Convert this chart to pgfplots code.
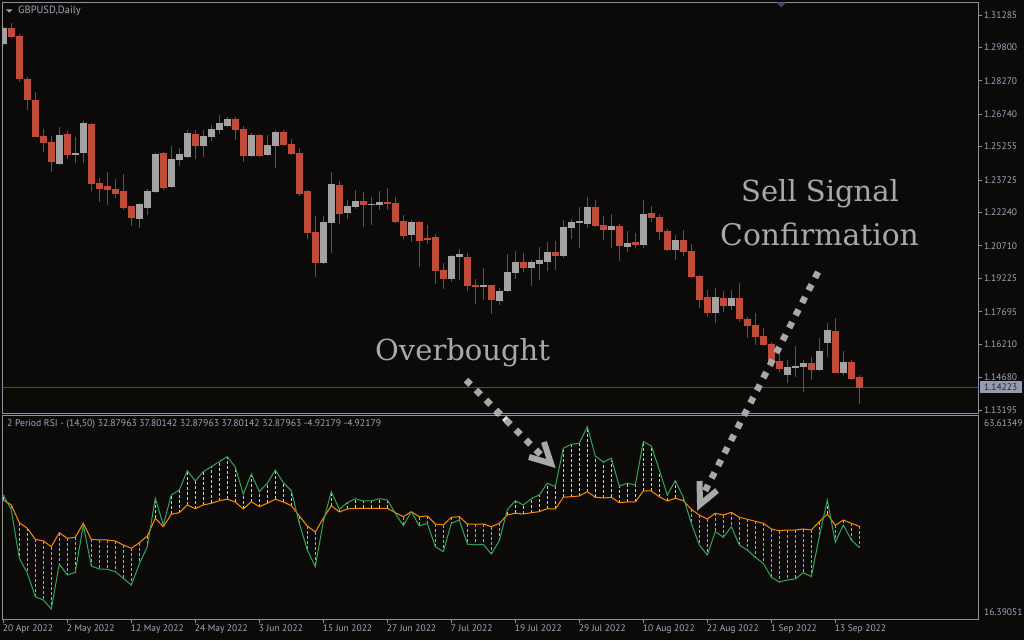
\documentclass[border=0pt]{standalone}
\usepackage{fontspec}
\setmainfont{PT Sans}
\newfontfamily\slab{DejaVu Serif}
\usepackage{pgfplots}
\usepackage{pgfplotstable}
\pgfplotsset{compat=1.18}

\definecolor{bg}{RGB}{12,10,9}
\definecolor{frame}{RGB}{140,144,160}
\definecolor{lbl}{RGB}{160,166,186}
\definecolor{upc}{RGB}{163,163,163}
\definecolor{dnc}{RGB}{196,74,58}
\definecolor{wick}{RGB}{86,86,88}
\definecolor{rsig}{RGB}{50,165,90}
\definecolor{rsio}{RGB}{255,140,0}
\definecolor{hatchabove}{RGB}{205,212,190}
\definecolor{hatchbelow}{RGB}{235,165,25}
\definecolor{ann}{RGB}{168,168,168}
\definecolor{bidline}{RGB}{70,74,100}
\definecolor{bidbox}{RGB}{150,156,176}
\definecolor{shiftmk}{RGB}{62,66,110}

\newcommand\lblfont{\fontsize{9.5pt}{11pt}\selectfont}

% daily candles, x = bar index (0 = 20 Apr 2022)
\pgfplotstableread{
x o h l c
0 1.29971 1.30735 1.29911 1.30690
1 1.30690 1.30932 1.30255 1.30291
2 1.30323 1.30401 1.28230 1.28368
3 1.28354 1.28446 1.26934 1.27406
4 1.27392 1.27759 1.25675 1.25711
5 1.25743 1.26064 1.25024 1.25437
6 1.25469 1.25743 1.24095 1.24553
7 1.24475 1.26156 1.24438 1.25789
8 1.25835 1.25972 1.24704 1.24887
9 1.24887 1.25711 1.24521 1.24965
10 1.24979 1.26430 1.24521 1.26339
11 1.26293 1.26339 1.23238 1.23559
12 1.23591 1.23820 1.22735 1.23330
13 1.23454 1.24095 1.22597 1.23284
14 1.23316 1.23774 1.22918 1.23101
15 1.23225 1.24003 1.22368 1.22460
16 1.22538 1.22538 1.21635 1.22002
17 1.21956 1.22675 1.21544 1.22629
18 1.22460 1.23316 1.22139 1.23225
19 1.23193 1.24965 1.23147 1.24933
20 1.24965 1.25011 1.23284 1.23376
21 1.23422 1.25285 1.23376 1.24690
22 1.24644 1.25180 1.24383 1.24933
23 1.24796 1.26018 1.24759 1.25881
24 1.25835 1.26018 1.24704 1.25299
25 1.25299 1.26018 1.24796 1.25743
26 1.25711 1.26247 1.25528 1.26064
27 1.26032 1.26705 1.25849 1.26339
28 1.26215 1.26614 1.26179 1.26522
29 1.26522 1.26600 1.25574 1.26032
30 1.26064 1.26201 1.24567 1.24841
31 1.24841 1.25881 1.24805 1.25789
32 1.25789 1.25835 1.24805 1.24841
33 1.24887 1.25789 1.24828 1.25331
34 1.25299 1.26018 1.24292 1.25927
35 1.25927 1.26018 1.25285 1.25345
36 1.25377 1.25606 1.24873 1.24933
37 1.24965 1.25194 1.23009 1.23101
38 1.23225 1.23270 1.21040 1.21315
39 1.21347 1.22080 1.19300 1.19941
40 1.19941 1.22080 1.19895 1.21805
41 1.21773 1.24095 1.20399 1.23545
42 1.23499 1.23683 1.21727 1.22185
43 1.22231 1.22812 1.21956 1.22538
44 1.22506 1.23270 1.22414 1.22767
45 1.22767 1.23179 1.21590 1.22583
46 1.22597 1.22950 1.21681 1.22643
47 1.22597 1.23225 1.22368 1.22721
48 1.22721 1.23362 1.22368 1.22629
49 1.22675 1.22950 1.21782 1.21819
50 1.21851 1.22125 1.21040 1.21164
51 1.21209 1.21896 1.20889 1.21805
52 1.21805 1.21851 1.19744 1.20935
53 1.21072 1.21667 1.20797 1.21026
54 1.21118 1.21255 1.18965 1.19561
55 1.19607 1.19927 1.18736 1.19194
56 1.19194 1.20294 1.19057 1.20248
57 1.20202 1.20568 1.19149 1.20339
58 1.20202 1.20385 1.18645 1.18874
59 1.18920 1.19194 1.18049 1.18828
60 1.18828 1.19698 1.18233 1.18920
61 1.18920 1.18920 1.17591 1.18233
62 1.18187 1.18782 1.18004 1.18645
63 1.18645 1.20339 1.18599 1.19515
64 1.19469 1.20477 1.19194 1.19973
65 1.19973 1.20385 1.19515 1.19698
66 1.19698 1.20065 1.18874 1.19973
67 1.19881 1.20660 1.19149 1.20065
68 1.19973 1.20889 1.19561 1.20431
69 1.20431 1.20935 1.19607 1.20248
70 1.20248 1.21896 1.20156 1.21576
71 1.21530 1.21942 1.21026 1.21805
72 1.21759 1.22492 1.20614 1.21851
73 1.21713 1.22950 1.21530 1.22492
74 1.22492 1.22812 1.21576 1.21622
75 1.21667 1.22080 1.20980 1.21438
76 1.21438 1.22171 1.20614 1.21622
77 1.21622 1.21713 1.20019 1.20706
78 1.20660 1.21393 1.20431 1.20843
79 1.20889 1.21301 1.20614 1.20751
80 1.20751 1.22812 1.20614 1.22171
81 1.22217 1.22538 1.21805 1.21988
82 1.22034 1.22171 1.20980 1.21347
83 1.21393 1.21484 1.20477 1.20522
84 1.20522 1.21209 1.20065 1.20980
85 1.20980 1.21438 1.20248 1.20431
86 1.20477 1.20797 1.19240 1.19286
87 1.19332 1.19378 1.17866 1.18233
88 1.18370 1.18691 1.17454 1.17637
89 1.17637 1.18782 1.17179 1.18370
90 1.18324 1.18645 1.17683 1.17958
91 1.17958 1.18691 1.17775 1.18324
92 1.18324 1.19011 1.17225 1.17362
93 1.17362 1.17468 1.16479 1.17056
94 1.17088 1.17637 1.16172 1.16552
95 1.16584 1.16950 1.16126 1.16186
96 1.16231 1.16309 1.15256 1.15439
97 1.15439 1.15805 1.14949 1.15086
98 1.14811 1.15485 1.14418 1.15178
99 1.15132 1.16126 1.14720 1.15224
100 1.15178 1.15485 1.14033 1.15361
101 1.15361 1.15636 1.14569 1.15041
102 1.15027 1.16492 1.14981 1.15897
103 1.16277 1.17165 1.15636 1.16859
104 1.16813 1.17408 1.14889 1.14903
105 1.14903 1.15897 1.14784 1.15393
106 1.15407 1.15485 1.14592 1.14628
107 1.14706 1.14798 1.13483 1.14223
}\candles

% 2 period RSI (g) and its signal (m)
\pgfplotstableread{
x g m
0 45.15 43.98
1 41.64 42.81
2 30.35 38.67
3 26.91 37.36
4 21.37 34.79
5 20.60 34.39
6 18.49 33.06
7 29.01 36.33
8 26.44 35.02
9 27.07 35.26
10 38.13 38.53
11 28.55 34.79
12 27.85 34.63
13 27.78 34.63
14 27.21 34.39
15 25.67 33.46
16 24.11 32.69
17 29.01 33.99
18 33.06 35.56
19 44.38 39.70
20 38.13 37.73
21 45.15 40.63
22 46.32 41.01
23 50.83 42.81
24 48.42 41.94
25 50.60 42.81
26 51.76 43.21
27 52.93 43.81
28 54.10 44.14
29 51.62 43.51
30 45.31 41.87
31 50.06 43.58
32 45.92 42.41
33 47.88 43.21
34 50.99 44.14
35 48.02 43.51
36 46.15 42.65
37 38.53 40.24
38 32.29 37.90
39 28.38 36.50
40 38.90 39.70
41 45.92 42.65
42 41.80 41.17
43 43.35 41.87
44 44.28 42.04
45 43.74 42.04
46 43.74 42.04
47 44.28 42.04
48 43.98 42.04
49 40.87 41.01
50 37.97 40.07
51 41.24 41.24
52 37.90 40.07
53 38.53 40.24
54 33.06 38.37
55 31.89 38.13
56 38.53 39.93
57 39.30 40.07
58 33.69 38.37
59 33.46 38.30
60 33.62 38.37
61 31.35 37.73
62 34.46 38.53
63 41.64 40.47
64 43.81 40.87
65 42.81 40.70
66 44.28 41.01
67 45.15 41.24
68 47.88 41.94
69 47.09 41.87
70 56.06 44.61
71 57.00 44.75
72 57.23 44.91
73 61.12 45.92
74 54.26 44.61
75 52.86 44.44
76 53.73 44.61
77 47.25 43.35
78 47.88 43.51
79 47.48 43.51
80 57.61 46.08
81 56.60 46.08
82 50.99 44.75
83 45.15 43.74
84 48.49 44.38
85 44.61 43.81
86 38.53 41.80
87 33.46 40.47
88 31.12 39.53
89 36.57 40.87
90 35.26 40.47
91 37.73 41.10
92 33.46 39.93
93 32.29 39.46
94 30.58 39.00
95 29.18 38.53
96 25.91 37.20
97 24.81 36.80
98 25.27 36.96
99 25.51 36.96
100 26.98 37.20
101 26.05 36.96
102 35.40 38.90
103 43.98 40.70
104 34.09 38.06
105 38.13 39.30
106 34.63 38.53
107 32.88 37.80
}\rsi

% bars where the RSI is above its signal: signal m and gap d = g - m
\pgfplotstableread{
x m d
0 43.98 1.17
19 39.70 4.68
20 37.73 0.40
21 40.63 4.52
22 41.01 5.31
23 42.81 8.02
24 41.94 6.48
25 42.81 7.79
26 43.21 8.55
27 43.81 9.12
28 44.14 9.96
29 43.51 8.11
30 41.87 3.44
31 43.58 6.48
32 42.41 3.51
33 43.21 4.67
34 44.14 6.85
35 43.51 4.51
36 42.65 3.50
41 42.65 3.27
42 41.17 0.63
43 41.87 1.48
44 42.04 2.24
45 42.04 1.70
46 42.04 1.70
47 42.04 2.24
48 42.04 1.94
63 40.47 1.17
64 40.87 2.94
65 40.70 2.11
66 41.01 3.27
67 41.24 3.91
68 41.94 5.94
69 41.87 5.22
70 44.61 11.45
71 44.75 12.25
72 44.91 12.32
73 45.92 15.20
74 44.61 9.65
75 44.44 8.42
76 44.61 9.12
77 43.35 3.90
78 43.51 4.37
79 43.51 3.97
80 46.08 11.53
81 46.08 10.52
82 44.75 6.24
83 43.74 1.41
84 44.38 4.11
85 43.81 0.80
103 40.70 3.28
}\rsiabove

% bars where the RSI is below its signal
\pgfplotstableread{
x m d
1 42.81 -1.17
2 38.67 -8.32
3 37.36 -10.45
4 34.79 -13.42
5 34.39 -13.79
6 33.06 -14.57
7 36.33 -7.32
8 35.02 -8.58
9 35.26 -8.19
10 38.53 -0.40
11 34.79 -6.24
12 34.63 -6.78
13 34.63 -6.85
14 34.39 -7.18
15 33.46 -7.79
16 32.69 -8.58
17 33.99 -4.98
18 35.56 -2.50
37 40.24 -1.71
38 37.90 -5.61
39 36.50 -8.12
40 39.70 -0.80
49 41.01 -0.14
50 40.07 -2.10
52 40.07 -2.17
53 40.24 -1.71
54 38.37 -5.31
55 38.13 -6.24
56 39.93 -1.40
57 40.07 -0.77
58 38.37 -4.68
59 38.30 -4.84
60 38.37 -4.75
61 37.73 -6.38
62 38.53 -4.07
86 41.80 -3.27
87 40.47 -7.01
88 39.53 -8.41
89 40.87 -4.30
90 40.47 -5.21
91 41.10 -3.37
92 39.93 -6.47
93 39.46 -7.17
94 39.00 -8.42
95 38.53 -9.35
96 37.20 -11.29
97 36.80 -11.99
98 36.96 -11.69
99 36.96 -11.45
100 37.20 -10.22
101 36.96 -10.91
102 38.90 -3.50
104 38.06 -3.97
105 39.30 -1.17
106 38.53 -3.90
107 37.80 -4.92
}\rsibelow

\pgfplotsset{
  mtpanel/.style={
    scale only axis, anchor=south west, width=976pt,
    xmin=-0.125, xmax=121.875,
    axis line style={draw=frame, line width=1pt},
    tick style={draw=frame, line width=1pt},
    ticklabel style={font=\lblfont, text=lbl},
  },
  vbar/.style n args={3}{draw=none, mark=none,
    error bars/.cd, y dir=both, y explicit, error mark=none,
    error bar style={draw=#1, line width=#2, #3}},
}

\begin{document}
\begin{tikzpicture}
\path[use as bounding box, fill=bg] (0,0) rectangle (1024pt,640pt);

% price window
\begin{axis}[mtpanel, at={(2.3pt,226.7pt)}, height=411pt,
  ymin=1.13044, ymax=1.31867, xtick=\empty,
  ytick={1.31285,1.29800,1.28270,1.26740,1.25255,1.23725,1.22240,1.20710,1.19225,1.17695,1.16210,1.14680,1.13195},
  yticklabels={1.31285,1.29800,1.28270,1.26740,1.25255,1.23725,1.22240,1.20710,1.19225,1.17695,1.16210,1.14680,1.13195},
  ytick pos=right, yticklabel pos=right, tick align=outside, major tick length=3.5pt,
  yticklabel style={anchor=west, inner sep=0pt, xshift=2pt}]
\addplot[bidline, line width=1pt] coordinates {(-1,1.14223) (130,1.14223)};
\addplot[vbar={wick}{1pt}{}]
  table[x=x, y expr={(\thisrow{h}+\thisrow{l})/2}, y error expr={(\thisrow{h}-\thisrow{l})/2}] {\candles};
\addplot[restrict expr to domain={\thisrow{c}-\thisrow{o}}{0:1}, vbar={upc}{6.6pt}{}]
  table[x=x, y expr={(\thisrow{o}+\thisrow{c})/2}, y error expr={max(abs(\thisrow{c}-\thisrow{o})/2,0.00023)}] {\candles};
\addplot[restrict expr to domain={\thisrow{c}-\thisrow{o}}{-1:-0.000001}, vbar={dnc}{6.6pt}{}]
  table[x=x, y expr={(\thisrow{o}+\thisrow{c})/2}, y error expr={max(abs(\thisrow{c}-\thisrow{o})/2,0.00023)}] {\candles};
\end{axis}

% RSI window
\begin{axis}[mtpanel, at={(2.3pt,20.7pt)}, height=204pt,
  ymin=16.09, ymax=63.77, ytick=\empty,
  xtick={0,8,16,24,32,40,48,56,64,72,80,88,96,104},
  xticklabels={20 Apr 2022,2 May 2022,12 May 2022,24 May 2022,3 Jun 2022,15 Jun 2022,27 Jun 2022,7 Jul 2022,19 Jul 2022,29 Jul 2022,10 Aug 2022,22 Aug 2022,1 Sep 2022,13 Sep 2022},
  xtick pos=bottom, tick align=outside, major tick length=4pt,
  xticklabel style={anchor=north west, inner sep=0pt, xshift=-0.6pt, yshift=-1pt}]
% hatching: vertical dashed strokes from the signal line to the RSI
\addplot[hatchabove, line width=1pt, dash pattern=on 3pt off 2pt,
  quiver={u=0, v=\thisrow{d}}] table[x=x, y=m] {\rsiabove};
\addplot[hatchbelow, line width=1pt, dash pattern=on 3pt off 2pt,
  quiver={u=0, v=\thisrow{d}}] table[x=x, y=m] {\rsibelow};
\addplot[rsio, line width=1pt] table[x=x, y=m] {\rsi};
\addplot[rsig, line width=1pt] table[x=x, y=g] {\rsi};
\end{axis}

% texts and drawings in pixel coordinates (origin top left)
\begin{scope}[x=1pt, y=-1pt, yshift=640pt]
  \fill[shiftmk] (776.5,2.5) -- (786,2.5) -- (781.2,7.5) -- cycle;
  \fill[lbl] (6,9.5) -- (12.5,9.5) -- (9.25,12.7) -- cycle;
  \node[anchor=west, inner sep=0pt, font=\fontsize{10.5pt}{12pt}\selectfont, text=lbl] at (18,11) {GBPUSD,Daily};
  \node[anchor=west, inner sep=0pt, font=\fontsize{9.7pt}{11pt}\selectfont, text=lbl] at (7,424.5)
    {2 Period RSI - (14,50) 32.87963 37.80142 32.87963 37.80142 32.87963 -4.92179 -4.92179};
  \node[anchor=west, inner sep=0pt, font=\lblfont, text=lbl] at (984,423) {63.61349};
  \node[anchor=west, inner sep=0pt, font=\lblfont, text=lbl] at (984,612) {16.39051};
  \node[anchor=west, fill=bidbox, text=black!85, font=\lblfont, inner sep=0pt,
        minimum width=42pt, minimum height=12pt] at (979.5,387) {1.14223};
  \fill[white!80!gray] (497,409.5) -- (500.5,413) -- (497,416.5) -- (493.5,413) -- cycle;
  \fill[white!80!gray] (506,416) -- (510,420) -- (506,424) -- (502,420) -- cycle;

  \node[anchor=base west, inner sep=0pt, text=ann, font=\slab\fontsize{29pt}{30pt}\selectfont] at (375,360.7) {Overbought};
  \node[anchor=base west, inner sep=0pt, text=ann, font=\slab\fontsize{29pt}{30pt}\selectfont] at (741,201.7) {Sell Signal};
  \node[anchor=base west, inner sep=0pt, text=ann, font=\slab\fontsize{29.8pt}{30pt}\selectfont] at (720,245.7) {Confirmation};

  \draw[ann, line width=6.5pt, dash pattern=on 6.5pt off 7.6pt] (466,380) -- (546,460);
  \draw[ann, line width=6pt, line join=miter, miter limit=20] (529,457) -- (551,463.5) -- (544,442);
  \draw[ann, line width=6.5pt, dash pattern=on 6.5pt off 7.6pt] (818,272) -- (705,491);
  \draw[ann, line width=6pt, line join=miter, miter limit=20] (699.5,481) -- (700,504.5) -- (717,490.5);
\end{scope}
\end{tikzpicture}
\end{document}
